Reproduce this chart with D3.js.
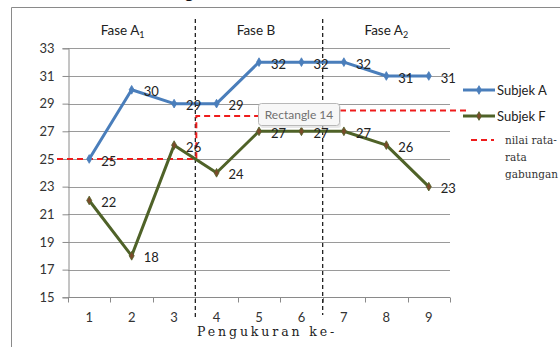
<!DOCTYPE html>
<html>
<head>
<meta charset="utf-8">
<script src="https://cdn.jsdelivr.net/npm/d3@7/dist/d3.min.js"></script>
<style>
  html, body { margin: 0; padding: 0; background: #fff; }
  svg { display: block; }
</style>
</head>
<body>
<svg id="chart" width="560" height="347"></svg>
<script>
// Measurement sessions and the two subjects' scores
const sessions = [1, 2, 3, 4, 5, 6, 7, 8, 9];
const subjekA = [25, 30, 29, 29, 32, 32, 32, 31, 31];
const subjekF = [22, 18, 26, 24, 27, 27, 27, 26, 23];
const yTicks = [15, 17, 19, 21, 23, 25, 27, 29, 31, 33];

// Phases: label, main text, subscript, first and last session
const phases = [
  { main: "Fase A", sub: "1", from: 1, to: 3 },
  { main: "Fase B", sub: "",  from: 4, to: 6 },
  { main: "Fase A", sub: "2", from: 7, to: 9 }
];
// Combined mean levels drawn as the red dashed step line
const meanBaseline = 25;
const meanUpperLeft = 28.1;
const meanUpperRight = 28.5;

const svg = d3.select("#chart");
const font = "Lato, 'Open Sans', sans-serif";
const serif = "'DejaVu Serif', 'Liberation Serif', serif";

const x = d3.scaleBand().domain(sessions).range([68, 450]).padding(0);
const y = d3.scaleLinear().domain([15, 33]).range([297.3, 48.3]);
const cx = d => x(d) + x.bandwidth() / 2;

// Outer frame (top and left edges)
svg.append("path")
  .attr("d", "M11.5,347 V7.5 H560")
  .attr("fill", "none").attr("stroke", "#8a8a8a").attr("stroke-width", 1);

// Title descender showing above the frame
svg.append("text").attr("x", 184).attr("y", -2)
  .attr("font-family", "'Liberation Sans', Arial, sans-serif")
  .attr("font-weight", "bold").attr("font-size", 17).attr("fill", "#111").text("g");

// Horizontal gridlines
svg.append("g").selectAll("line").data(yTicks.filter(v => v > 15)).join("line")
  .attr("x1", 68).attr("x2", 450)
  .attr("y1", d => Math.round(y(d)) + 0.5).attr("y2", d => Math.round(y(d)) + 0.5)
  .attr("stroke", "#9a9a9a").attr("stroke-width", 1);

// Y axis
const yAxis = svg.append("g").attr("transform", "translate(68.5,0)")
  .call(d3.axisLeft(y).tickValues(yTicks).tickSize(6).tickPadding(8));
yAxis.select(".domain").attr("stroke", "#8a8a8a");
yAxis.selectAll(".tick line").attr("stroke", "#8a8a8a");
yAxis.selectAll(".tick text").attr("font-family", font).attr("font-size", 13).attr("fill", "#333");

// X axis with ticks at the band boundaries
const xAxisG = svg.append("g").attr("transform", `translate(0,${Math.round(y(15)) + 0.5})`);
xAxisG.append("line").attr("x1", 68).attr("x2", 450)
  .attr("stroke", "#8a8a8a");
const boundaries = sessions.map(d => x(d)).concat([x(9) + x.bandwidth()]);
xAxisG.selectAll("line.tk").data(boundaries).join("line").attr("class", "tk")
  .attr("x1", d => Math.round(d) + 0.5).attr("x2", d => Math.round(d) + 0.5)
  .attr("y1", 0).attr("y2", 5).attr("stroke", "#8a8a8a");
xAxisG.selectAll("text").data(sessions).join("text")
  .attr("x", d => cx(d)).attr("y", 20).attr("dy", "0.35em")
  .attr("text-anchor", "middle")
  .attr("font-family", font).attr("font-size", 13).attr("fill", "#333")
  .text(d => d);

// X axis title
svg.append("text").attr("x", 197).attr("y", 336)
  .attr("font-family", serif)
  .attr("font-size", 12.5).attr("letter-spacing", 2.9).attr("fill", "#222")
  .text("Pengukuran ke-");

// Phase separators
const seps = [x(4), x(7)];
svg.append("g").selectAll("line").data(seps).join("line")
  .attr("x1", d => d).attr("x2", d => d)
  .attr("y1", 19).attr("y2", (d, i) => i === 0 ? 318 : 315)
  .attr("stroke", "#222").attr("stroke-width", 1.3)
  .attr("stroke-dasharray", "4,3");

// Phase labels, centred over their sessions with a small leftward nudge
const nudge = [-9, -3, 0];
const phaseText = svg.append("g").selectAll("text").data(phases).join("text")
  .attr("x", (d, i) => (x(d.from) + x(d.to) + x.bandwidth()) / 2 + nudge[i])
  .attr("y", 35)
  .attr("text-anchor", "middle")
  .attr("font-family", font).attr("font-size", 13.5).attr("fill", "#222");
phaseText.append("tspan").text(d => d.main);
phaseText.filter(d => d.sub).append("tspan")
  .attr("font-size", 9).attr("dy", 3).text(d => d.sub);

// Red dashed combined-mean line
const redStyle = sel => sel.attr("fill", "none").attr("stroke", "#ee1c1c")
  .attr("stroke-width", 2).attr("stroke-dasharray", "6,4");
const sepX = x(4) + 1;
svg.append("path")
  .attr("d", `M57,${y(meanBaseline)} H${sepX} V${y(meanUpperLeft)} H300`)
  .call(redStyle);
svg.append("path")
  .attr("d", `M300,${y(meanUpperRight)} H466`)
  .call(redStyle);

// Series lines
const line = d3.line().x((d, i) => cx(sessions[i])).y(d => y(d));
const series = [
  { name: "Subjek A", values: subjekA, color: "#4a7ebb", marker: "#4a7ebb" },
  { name: "Subjek F", values: subjekF, color: "#4f6228", marker: "#7a4a2a" }
];
const diamond = d3.symbol().type(d3.symbolDiamond).size(22);

series.forEach(s => {
  svg.append("path").datum(s.values).attr("d", line)
    .attr("fill", "none").attr("stroke", s.color).attr("stroke-width", 3)
    .attr("stroke-linejoin", "round");
  svg.append("g").selectAll("path").data(s.values).join("path")
    .attr("d", diamond)
    .attr("transform", (d, i) => `translate(${cx(sessions[i])},${y(d)})`)
    .attr("fill", s.marker).attr("stroke", s.color).attr("stroke-width", 0.8);
  svg.append("g").selectAll("text").data(s.values).join("text")
    .attr("x", (d, i) => cx(sessions[i]) + 12)
    .attr("y", d => y(d) + 2).attr("dy", "0.35em")
    .attr("font-family", font).attr("font-size", 13).attr("fill", "#222")
    .text(d => d);
});

// Shape name tag floating over the chart
const tag = svg.append("g").attr("transform", "translate(258.5,103.5)");
tag.append("rect").attr("x", 1.5).attr("y", 1.5).attr("width", 81).attr("height", 23)
  .attr("rx", 3).attr("fill", "#d8d8d8").attr("opacity", 0.6);
tag.append("rect").attr("width", 81).attr("height", 22).attr("rx", 3)
  .attr("fill", "#f7f7f7").attr("stroke", "#b8b8b8");
tag.append("text").attr("x", 40.5).attr("y", 11).attr("dy", "0.35em")
  .attr("text-anchor", "middle")
  .attr("font-family", font).attr("font-size", 12).attr("fill", "#707070")
  .text("Rectangle 14");

// Legend
const legend = svg.append("g");
series.forEach((s, i) => {
  const ly = 90 + i * 26;
  legend.append("line").attr("x1", 463).attr("x2", 495).attr("y1", ly).attr("y2", ly)
    .attr("stroke", s.color).attr("stroke-width", 3);
  legend.append("path").attr("d", diamond)
    .attr("transform", `translate(479,${ly})`)
    .attr("fill", s.marker).attr("stroke", s.color).attr("stroke-width", 0.8);
  legend.append("text").attr("x", 497).attr("y", ly).attr("dy", "0.35em")
    .attr("font-family", font).attr("font-size", 13).attr("fill", "#222")
    .text(s.name);
});
legend.append("line").attr("x1", 471).attr("x2", 494).attr("y1", 140).attr("y2", 140)
  .call(redStyle);
const meanLabel = ["nilai rata-", "rata", "gabungan"];
legend.selectAll("text.m").data(meanLabel).join("text").attr("class", "m")
  .attr("x", 505).attr("y", (d, i) => 140 + i * 17).attr("dy", "0.35em")
  .attr("font-family", serif)
  .attr("font-size", 10.5).attr("fill", "#333")
  .text(d => d);
</script>
</body>
</html>
